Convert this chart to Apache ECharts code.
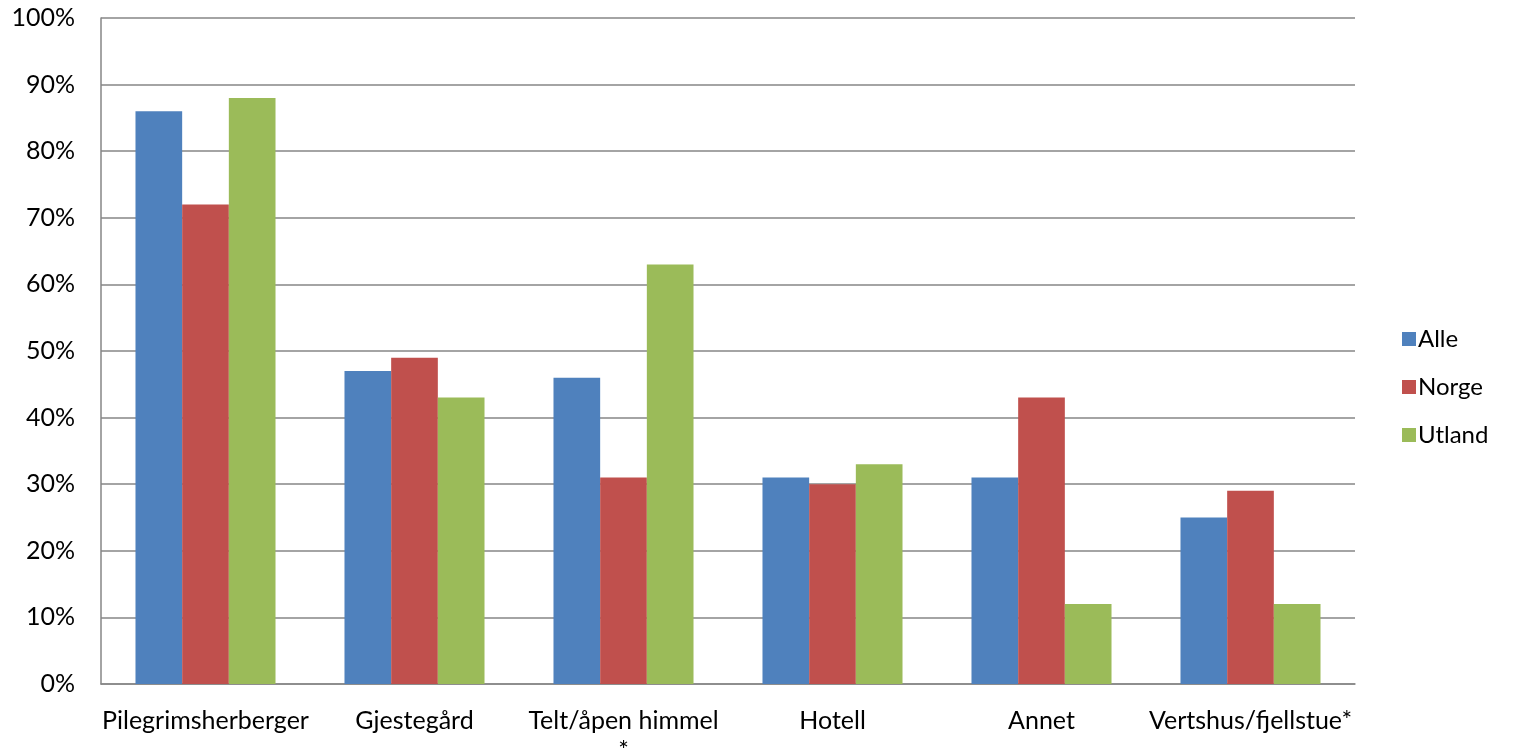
<!DOCTYPE html>
<html><head><meta charset="utf-8">
<script src="https://cdn.jsdelivr.net/npm/echarts@6/dist/echarts.min.js"></script>
<style>html,body{margin:0;padding:0;background:#fff}#c{width:1517px;height:751px}</style>
</head><body><div id="c"></div>
<script>
const categories = ['Pilegrimsherberger','Gjestegård','Telt/åpen himmel\n*','Hotell','Annet','Vertshus/fjellstue*'];
const alle = [86,47,46,31,31,25];
const norge = [72,49,31,30,43,29];
const utland = [88,43,63,33,12,12];
const yTicks = [0,10,20,30,40,50,60,70,80,90,100];
const FONT = 'Lato, "Open Sans", sans-serif';
const chart = echarts.init(document.getElementById('c'));
chart.setOption({
  animation:false,
  textStyle:{fontFamily:FONT},
  grid:{left:101,right:162,top:18,bottom:67,containLabel:false,outerBoundsMode:'none'},
  legend:{orient:'vertical',left:1397,top:322,itemWidth:14,itemHeight:14,itemGap:24,icon:'rect',
    textStyle:{fontSize:24,lineHeight:24,color:'#000',fontFamily:FONT,padding:[0,0,0,-3]},data:['Alle','Norge','Utland']},
  xAxis:{type:'category',data:categories,
    axisLine:{lineStyle:{color:'#868686',width:1.5}},axisTick:{show:false},
    axisLabel:{color:'#000',fontSize:25,margin:22,lineHeight:30,interval:0,fontFamily:FONT,hideOverlap:false}},
  yAxis:{type:'value',min:yTicks[0],max:yTicks[yTicks.length-1],interval:10,
    axisLine:{show:true,lineStyle:{color:'#868686',width:1.5}},axisTick:{show:false},
    splitLine:{lineStyle:{color:'#868686',width:1.5}},
    axisLabel:{color:'#000',fontSize:25,margin:26,formatter:v=>v+'%',fontFamily:FONT}},
  series:[
    {name:'Alle',type:'bar',data:alle,barGap:'0%',barCategoryGap:'33%',itemStyle:{color:'#4F81BD'}},
    {name:'Norge',type:'bar',data:norge,itemStyle:{color:'#C0504D'}},
    {name:'Utland',type:'bar',data:utland,itemStyle:{color:'#9BBB59'}}
  ]
});
</script></body></html>
